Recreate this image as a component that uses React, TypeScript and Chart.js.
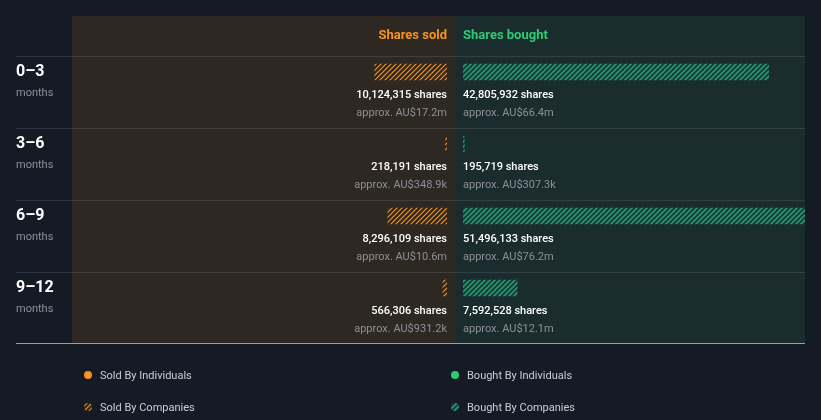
import React, { useEffect, useRef } from "react";
import { Chart, registerables } from "chart.js";

Chart.register(...registerables);

// ---- data ----
const periods = ["0–3", "3–6", "6–9", "9–12"];
const periodUnit = "months";
const soldShares = [10124315, 218191, 8296109, 566306];
const soldValueAUD = [17.2e6, 348.9e3, 10.6e6, 931.2e3];
const boughtShares = [42805932, 195719, 51496133, 7592528];
const boughtValueAUD = [66.4e6, 307.3e3, 76.2e6, 12.1e6];
const headerLabels = ["Shares sold", "Shares bought"];
const legendLabels = [
  "Sold By Individuals",
  "Sold By Companies",
  "Bought By Individuals",
  "Bought By Companies",
];
const shareAxisMax = 52.5e6;

// ---- style / layout ----
const W = 821;
const H = 420;
const BG = "#151b25";
const SOLD_PANEL = "#2d2822";
const BOUGHT_PANEL = "#1a2c2e";
const ORANGE = "#f7931e";
const GREEN = "#2ecc71";
const FONT = "Roboto, 'Noto Sans', sans-serif";
const LABEL_X = 16;
const PANEL_L = 72;
const MID = 455;
const PANEL_R = 805;
const PANEL_T = 16;
const GAP = 8;
const BAR_H = 16;
const ROW_H = 72;

function fmtShares(n: number) {
  return n.toLocaleString("en-US") + " shares";
}
function fmtAUD(v: number) {
  if (v >= 1e6) return "approx. AU$" + (v / 1e6).toFixed(1) + "m";
  return "approx. AU$" + (v / 1e3).toFixed(1) + "k";
}

function makeHatch(color: string, lw: number, period = 5) {
  const c = document.createElement("canvas");
  c.width = period;
  c.height = period;
  const g = c.getContext("2d")!;
  g.strokeStyle = color;
  g.lineWidth = lw;
  g.beginPath();
  g.moveTo(0, period);
  g.lineTo(period, 0);
  g.moveTo(-period, period);
  g.lineTo(period, -period);
  g.moveTo(0, 2 * period);
  g.lineTo(2 * period, 0);
  g.stroke();
  return g.createPattern(c, "repeat")!;
}

const splitAxesPlugin = {
  id: "splitAxes",
  afterLayout(chart: any) {
    const xs = chart.scales.xs;
    const xb = chart.scales.xb;
    const len = MID - GAP - PANEL_L;
    xs.left = PANEL_L;
    xs.right = PANEL_L + len;
    xs.width = len;
    xs.configure();
    // bought axis: same shares-per-pixel, but ends at the panel edge (bars are clipped there)
    const lenB = PANEL_R - (MID + GAP);
    xb.min = 0;
    xb.max = shareAxisMax * (lenB / len);
    xb.left = MID + GAP;
    xb.right = PANEL_R;
    xb.width = lenB;
    xb.configure();
  },
};

function makeDecorPlugin(orangeHatch: CanvasPattern, greenHatch: CanvasPattern) {
  return {
    id: "decor",
    beforeDraw(chart: any) {
      const ctx = chart.ctx as CanvasRenderingContext2D;
      const y = chart.scales.y;
      const rowTop = (i: number) => Math.round(y.getPixelForValue(i) - BAR_H / 2 - 8);
      const bottom = rowTop(periods.length - 1) + ROW_H - 1;
      ctx.save();
      ctx.fillStyle = BG;
      ctx.fillRect(0, 0, W, H);
      ctx.fillStyle = SOLD_PANEL;
      ctx.fillRect(PANEL_L, PANEL_T, MID - PANEL_L, bottom - PANEL_T);
      ctx.fillStyle = BOUGHT_PANEL;
      ctx.fillRect(MID, PANEL_T, PANEL_R - MID, bottom - PANEL_T);

      // header
      ctx.font = `bold 13px ${FONT}`;
      ctx.textBaseline = "alphabetic";
      ctx.fillStyle = ORANGE;
      ctx.textAlign = "right";
      ctx.fillText(headerLabels[0], MID - GAP, 39);
      ctx.fillStyle = GREEN;
      ctx.textAlign = "left";
      ctx.fillText(headerLabels[1], MID + GAP, 39);

      // separators
      ctx.fillStyle = "rgba(255,255,255,0.1)";
      periods.forEach((_, i) => {
        ctx.fillRect(LABEL_X, rowTop(i), PANEL_R - LABEL_X, 1);
      });
      ctx.fillStyle = "#9a9fa6";
      ctx.fillRect(LABEL_X, bottom, PANEL_R - LABEL_X, 1);

      // row texts
      periods.forEach((p, i) => {
        const t = rowTop(i);
        ctx.textAlign = "left";
        ctx.fillStyle = "#ffffff";
        ctx.font = `bold 16px ${FONT}`;
        ctx.fillText(p, LABEL_X, t + 20);
        ctx.fillStyle = "#8c9097";
        ctx.font = `11px ${FONT}`;
        ctx.fillText(periodUnit, LABEL_X, t + 40);

        ctx.font = `500 11px ${FONT}`;
        ctx.fillStyle = "#ffffff";
        ctx.textAlign = "right";
        ctx.fillText(fmtShares(soldShares[i]), MID - GAP, t + 42);
        ctx.textAlign = "left";
        ctx.fillText(fmtShares(boughtShares[i]), MID + GAP, t + 42);

        ctx.font = `11px ${FONT}`;
        ctx.fillStyle = "#8c9097";
        ctx.textAlign = "right";
        ctx.fillText(fmtAUD(soldValueAUD[i]), MID - GAP, t + 60);
        ctx.textAlign = "left";
        ctx.fillText(fmtAUD(boughtValueAUD[i]), MID + GAP, t + 60);
      });
      ctx.restore();
    },
    afterDraw(chart: any) {
      const ctx = chart.ctx as CanvasRenderingContext2D;
      ctx.save();
      const items = [
        { x: 88, y: 375, fill: ORANGE, under: null, text: legendLabels[0] },
        { x: 88, y: 407, fill: orangeHatch, under: SOLD_PANEL, text: legendLabels[1] },
        { x: 455, y: 375, fill: GREEN, under: null, text: legendLabels[2] },
        { x: 455, y: 407, fill: greenHatch, under: BOUGHT_PANEL, text: legendLabels[3] },
      ];
      items.forEach((it) => {
        if (it.under) {
          ctx.beginPath();
          ctx.arc(it.x, it.y, 4, 0, Math.PI * 2);
          ctx.fillStyle = it.under;
          ctx.fill();
        }
        ctx.beginPath();
        ctx.arc(it.x, it.y, 4, 0, Math.PI * 2);
        ctx.fillStyle = it.fill as any;
        ctx.fill();
        ctx.fillStyle = "#c9cdd3";
        ctx.font = `11px ${FONT}`;
        ctx.textAlign = "left";
        ctx.textBaseline = "middle";
        ctx.fillText(it.text, it.x + 12, it.y + 1);
      });
      ctx.restore();
    },
  };
}

export default function App() {
  const ref = useRef<HTMLCanvasElement | null>(null);

  useEffect(() => {
    document.body.style.margin = "0";
    document.body.style.background = BG;
    const canvas = ref.current!;
    const orangeHatch = makeHatch(ORANGE, 1.2);
    const greenHatch = makeHatch("#23906a", 2);
    const chart = new Chart(canvas, {
      type: "bar",
      data: {
        labels: periods,
        datasets: [
          {
            label: legendLabels[1],
            data: soldShares,
            xAxisID: "xs",
            yAxisID: "y",
            backgroundColor: orangeHatch as any,
            barThickness: BAR_H,
            grouped: false,
            borderWidth: 0,
          } as any,
          {
            label: legendLabels[3],
            data: boughtShares,
            xAxisID: "xb",
            yAxisID: "y",
            backgroundColor: greenHatch as any,
            barThickness: BAR_H,
            grouped: false,
            borderWidth: 0,
          } as any,
        ],
      },
      options: {
        indexAxis: "y",
        responsive: false,
        animation: false,
        devicePixelRatio: 1,
        events: [],
        layout: { padding: { left: PANEL_L, right: W - PANEL_R, top: 36, bottom: 96 } },
        scales: {
          y: { type: "category", display: false, offset: true, grid: { display: false } },
          xs: { type: "linear", axis: "x", position: "bottom", display: false, min: 0, max: shareAxisMax, reverse: true },
          xb: { type: "linear", axis: "x", position: "bottom", display: false, min: 0, max: shareAxisMax },
        } as any,
        plugins: { legend: { display: false }, tooltip: { enabled: false } },
      },
      plugins: [splitAxesPlugin, makeDecorPlugin(orangeHatch, greenHatch)],
    });
    return () => chart.destroy();
  }, []);

  return (
    <div style={{ position: "fixed", left: 0, top: 0, width: W, height: H, background: BG }}>
      <canvas ref={ref} width={W} height={H} style={{ display: "block", width: W, height: H }} />
    </div>
  );
}
